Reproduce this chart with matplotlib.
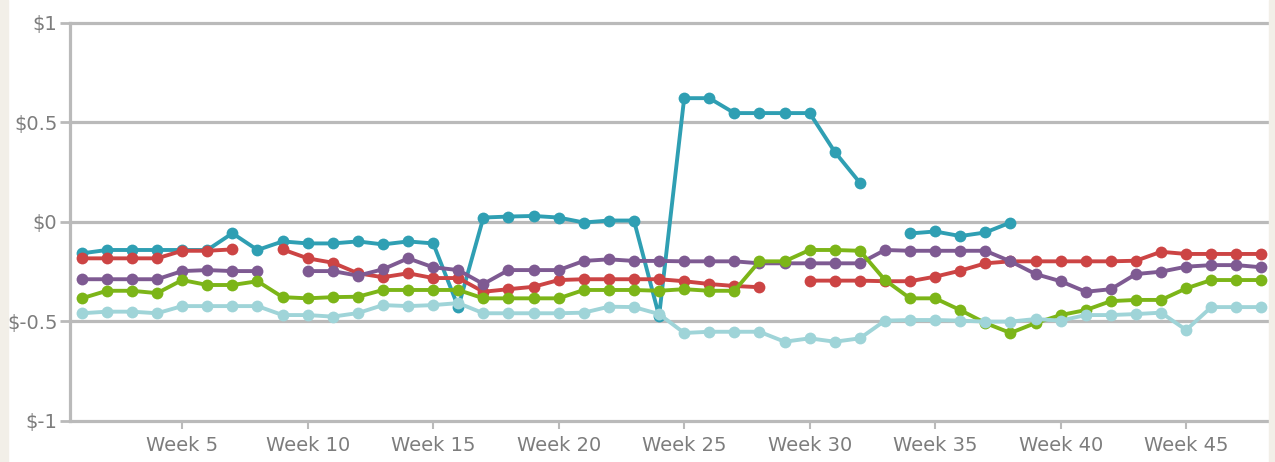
import numpy as np
import matplotlib
matplotlib.use('Agg')
from matplotlib import pyplot as plt
from matplotlib.patches import Rectangle

# Datos (None = semana sin dato)
weeks = list(range(1, 49))

teal = [-0.16, -0.143, -0.143, -0.143, -0.143, -0.143, -0.059, -0.143, -0.10, -0.11,
        -0.11, -0.10, -0.115, -0.10, -0.11, -0.43, 0.02, 0.025, 0.028, 0.02,
        -0.005, 0.005, 0.005, -0.475, 0.62, 0.62, 0.545, 0.545, 0.545, 0.545,
        0.35, 0.195, None, -0.06, -0.05, -0.073, -0.055, -0.005, None, None,
        None, None, None, None, None, None, None, None]

red = [-0.185, -0.185, -0.185, -0.185, -0.147, -0.147, -0.14, None, -0.14, -0.185,
       -0.207, -0.26, -0.28, -0.26, -0.284, -0.284, -0.353, -0.34, -0.328, -0.294,
       -0.29, -0.29, -0.29, -0.29, -0.30, -0.314, -0.324, -0.33, None, -0.297,
       -0.297, -0.297, -0.30, -0.30, -0.277, -0.247, -0.21, -0.20, -0.20, -0.20,
       -0.20, -0.20, -0.197, -0.152, -0.163, -0.163, -0.163, -0.163]

purple = [-0.29, -0.29, -0.29, -0.29, -0.249, -0.244, -0.249, -0.249, None, -0.249,
          -0.249, -0.272, -0.24, -0.185, -0.23, -0.244, -0.314, -0.244, -0.244, -0.244,
          -0.198, -0.19, -0.198, -0.198, -0.20, -0.20, -0.20, -0.21, -0.21, -0.21,
          -0.21, -0.21, -0.143, -0.147, -0.147, -0.147, -0.147, -0.20, -0.264, -0.30,
          -0.353, -0.34, -0.264, -0.252, -0.227, -0.219, -0.219, -0.23]

green = [-0.386, -0.348, -0.348, -0.36, -0.294, -0.319, -0.319, -0.30, -0.38, -0.386,
         -0.38, -0.378, -0.344, -0.344, -0.344, -0.344, -0.386, -0.386, -0.386, -0.386,
         -0.344, -0.344, -0.344, -0.348, -0.34, -0.348, -0.348, -0.20, -0.20, -0.143,
         -0.143, -0.147, -0.294, -0.386, -0.386, -0.445, -0.51, -0.56, -0.51, -0.47,
         -0.445, -0.40, -0.394, -0.394, -0.336, -0.294, -0.294, -0.294]

light = [-0.461, -0.453, -0.453, -0.461, -0.425, -0.425, -0.425, -0.425, -0.47, -0.47,
         -0.478, -0.46, -0.42, -0.425, -0.42, -0.41, -0.461, -0.461, -0.461, -0.461,
         -0.458, -0.428, -0.43, -0.465, -0.56, -0.554, -0.554, -0.554, -0.604, -0.587,
         -0.604, -0.587, -0.498, -0.495, -0.495, -0.498, -0.503, -0.503, -0.49, -0.498,
         -0.47, -0.47, -0.465, -0.458, -0.545, -0.43, -0.43, -0.43]

series = [teal, red, purple, green, light]
colores = ['#2f9fb3', '#cc4444', '#7e5a92', '#7cb518', '#9fd4d8']

yticks = [-1, -0.5, 0, 0.5, 1]
ytick_labels = ['$-1', '$-0.5', '$0', '$0.5', '$1']
xticks = [5, 10, 15, 20, 25, 30, 35, 40, 45]
xtick_labels = ['Week %d' % w for w in xticks]

plt.rcParams['font.family'] = ['Liberation Sans Narrow', 'DejaVu Sans']

fig = plt.figure(figsize=(12.75, 4.62), dpi=100)
fig.patch.set_facecolor('white')
ax = fig.add_axes([0.0549, 0.0898, 0.9396, 0.8614])

# Bordes beige de la captura
fig.patches.append(Rectangle((0, 0), 8 / 1275, 1, transform=fig.transFigure,
                             color='#f2efe8', zorder=0))
fig.patches.append(Rectangle((1 - 6 / 1275, 0), 6 / 1275, 1, transform=fig.transFigure,
                             color='#f2efe8', zorder=0))

for datos, col in zip(series, colores):
    y = np.array([np.nan if v is None else v for v in datos], dtype=float)
    ax.plot(weeks, y, color=col, lw=2.8, marker='o', markersize=8.5,
            markeredgewidth=0, solid_capstyle='round', zorder=3)

ax.set_xlim(0.53, 48.26)
ax.set_ylim(-1, 1)

# Rejilla horizontal gris
for yv in yticks:
    ax.axhline(yv, color='#bababa', lw=2.3, zorder=1, clip_on=False)

ax.set_yticks(yticks)
ax.set_yticklabels(ytick_labels)
ax.set_xticks(xticks)
ax.set_xticklabels(xtick_labels)

for spine in ['top', 'right', 'bottom']:
    ax.spines[spine].set_visible(False)
ax.spines['left'].set_color('#bababa')
ax.spines['left'].set_linewidth(2.3)

ax.tick_params(axis='y', length=7, width=2, color='#bababa', labelsize=14,
               labelcolor='#7d7d7d', pad=2)
ax.tick_params(axis='x', length=6, width=1.5, color='#bababa', labelsize=14,
               labelcolor='#7d7d7d', pad=5)

fig.savefig('out.png', dpi=100)
